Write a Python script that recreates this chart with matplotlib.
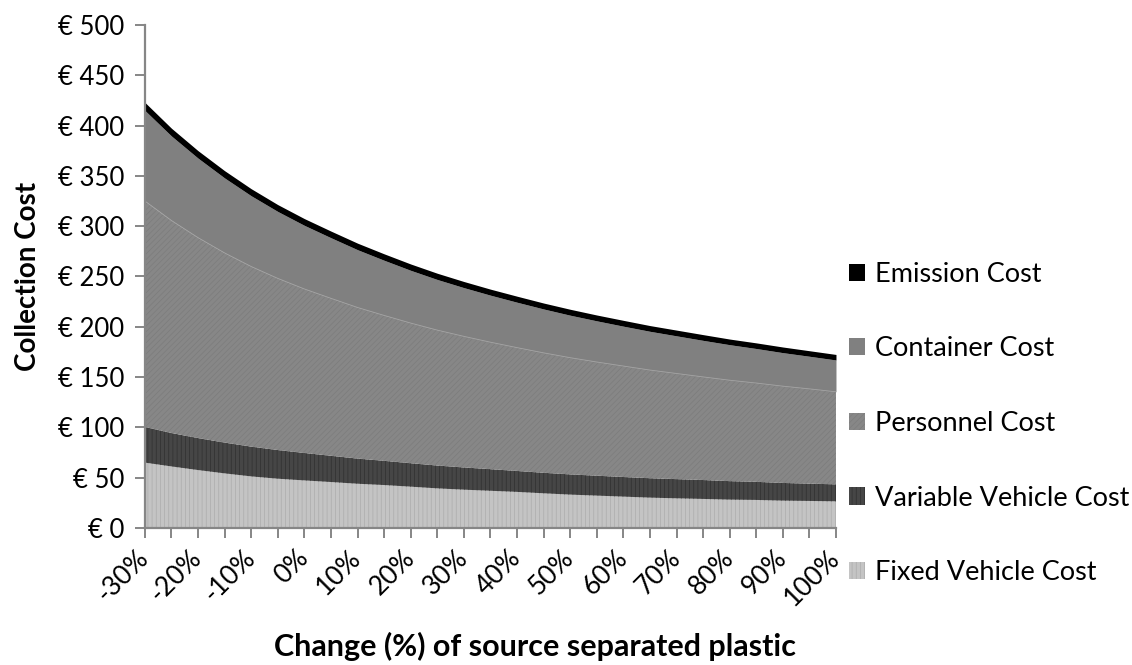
import matplotlib
matplotlib.use("Agg")
import matplotlib.pyplot as plt
import numpy as np

# ---- data ----
change_pct = [-30, -25, -20, -15, -10, -5, 0, 5, 10, 15, 20, 25, 30, 35, 40,
              45, 50, 55, 60, 65, 70, 75, 80, 85, 90, 95, 100]
fixed_vehicle = [65.0, 61.2, 57.6, 54.3, 51.3, 49.0, 47.3, 45.7, 44.0, 42.7, 41.1,
                 39.4, 38.1, 37.0, 35.9, 34.5, 33.2, 32.2, 31.2, 30.2, 29.5, 28.9,
                 28.2, 27.9, 27.2, 26.9, 26.5]
variable_vehicle = [35.5, 33.2, 31.8, 30.6, 29.6, 28.5, 27.3, 26.1, 25.0, 24.1, 23.3,
                    22.7, 22.1, 21.5, 20.8, 20.4, 20.1, 19.8, 19.5, 19.3, 19.1, 18.8,
                    18.4, 18.0, 17.6, 17.2, 16.9]
personnel = [224.5, 211.2, 199.2, 188.5, 179.0, 170.6, 163.0, 156.5, 150.2, 144.5,
             139.3, 134.6, 130.3, 126.2, 122.6, 119.2, 116.0, 113.0, 110.3, 107.5,
             105.0, 102.5, 100.3, 98.2, 96.2, 94.2, 92.0]
container = [90.0, 84.0, 79.0, 74.5, 70.3, 66.5, 63.2, 60.2, 57.4, 54.8, 52.4, 50.3,
             48.4, 46.7, 45.1, 43.6, 42.2, 40.9, 39.6, 38.5, 37.4, 36.3, 35.3, 34.3,
             33.3, 32.4, 31.6]
emission = [8.0, 7.7, 7.4, 7.2, 7.0, 6.8, 6.7, 6.6, 6.5, 6.4, 6.3, 6.2, 6.1, 6.0,
            6.0, 5.9, 5.9, 5.8, 5.8, 5.7, 5.7, 5.7, 5.6, 5.6, 5.6, 5.5, 5.5]

series_names = ["Fixed Vehicle Cost", "Variable Vehicle Cost", "Personnel Cost",
                "Container Cost", "Emission Cost"]
y_tick_values = [0, 50, 100, 150, 200, 250, 300, 350, 400, 450, 500]
y_tick_labels = ["€ 0", "€ 50", "€ 100", "€ 150", "€ 200", "€ 250", "€ 300",
                 "€ 350", "€ 400", "€ 450", "€ 500"]

# ---- style ----
plt.rcParams['font.family'] = ['Lato', 'DejaVu Sans']
plt.rcParams['hatch.linewidth'] = 0.5

face = ["#c4c4c4", "#464646", "#878787", "#808080", "#000000"]
hatch_col = ["#acacac", "#303030", "#7c7c7c", "#808080", "#000000"]
hatches = ["||||", "||||", "//////", None, None]

fig = plt.figure(figsize=(11.32, 6.65), dpi=100)
ax = fig.add_axes([0.128, 0.206, 0.6105, 0.7565])

x = np.arange(len(change_pct))
layers = [fixed_vehicle, variable_vehicle, personnel, container, emission]
base = np.zeros(len(x))
handles = []
tops = []
for vals, fc, hc, h, name in zip(layers, face, hatch_col, hatches, series_names):
    top = base + np.array(vals)
    p = ax.fill_between(x, base, top, facecolor=fc, edgecolor=hc, hatch=h,
                        linewidth=0, label=name)
    handles.append(p)
    tops.append(top)
    base = top

# faint light line on top of the personnel layer
ax.plot(x, tops[2], color="#a4a4a4", lw=0.6)

ax.set_xlim(x[0], x[-1])
ax.set_ylim(0, 500)
ax.set_yticks(y_tick_values)
ax.set_yticklabels(y_tick_labels)
ax.set_xticks(x)
xlabels = [f"{v}%" if i % 2 == 0 else "" for i, v in enumerate(change_pct)]
ax.set_xticklabels(xlabels, rotation=45, ha="right", va="center",
                   rotation_mode="anchor")

for s in ["top", "right"]:
    ax.spines[s].set_visible(False)
for s in ["left", "bottom"]:
    ax.spines[s].set_color("#868686")
    ax.spines[s].set_linewidth(1.6)
ax.tick_params(axis="both", colors="#868686", length=7, width=1.4,
               labelcolor="black")
ax.tick_params(axis="y", pad=8, labelsize=18.5)
ax.tick_params(axis="x", pad=12, labelsize=19)

ax.set_ylabel("Collection Cost", fontsize=20, fontweight="bold", labelpad=12)
fig.text(0.4726, 0.006, "Change (%) of source separated plastic", fontsize=22,
         fontweight="bold", ha="center", va="bottom")

leg = fig.legend(handles[::-1], series_names[::-1], loc="center left",
                 bbox_to_anchor=(0.740, 0.3632), frameon=False, fontsize=19.5,
                 handlelength=0.6, handleheight=0.6, handletextpad=0.37,
                 labelspacing=1.83, borderaxespad=0)

fig.savefig("out.png", dpi=100)
